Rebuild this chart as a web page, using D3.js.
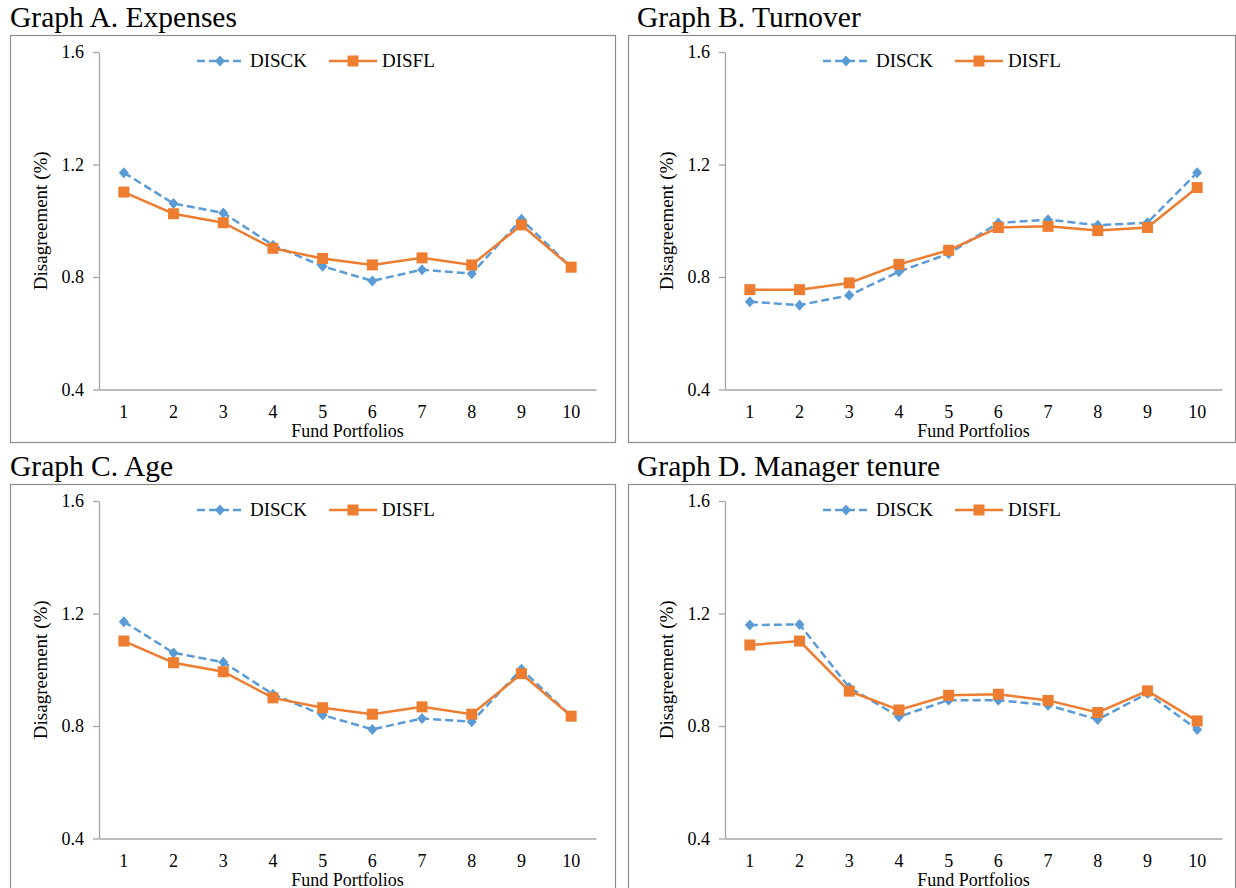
<!DOCTYPE html>
<html>
<head>
<meta charset="utf-8">
<script src="https://cdn.jsdelivr.net/npm/d3@7"></script>
<style>
  body { margin: 0; background: #fff; }
  svg text { fill: #000; }
</style>
</head>
<body>
<svg id="chart"></svg>
<script>
// values
const portfolios = ["1", "2", "3", "4", "5", "6", "7", "8", "9", "10"];
const yTicks = [0.4, 0.8, 1.2, 1.6];
const seriesNames = ["DISCK", "DISFL"];
const graphTitles = ["Graph A. Expenses", "Graph B. Turnover", "Graph C. Age", "Graph D. Manager tenure"];

const disckExpenses = [1.171, 1.061, 1.028, 0.913, 0.838, 0.786, 0.826, 0.812, 1.005, 0.834];
const disflExpenses = [1.102, 1.025, 0.993, 0.902, 0.866, 0.843, 0.868, 0.843, 0.985, 0.835];
const disckTurnover = [0.712, 0.700, 0.735, 0.819, 0.883, 0.992, 1.004, 0.984, 0.993, 1.171];
const disflTurnover = [0.755, 0.755, 0.779, 0.845, 0.895, 0.976, 0.980, 0.965, 0.976, 1.118];
const disckAge = [1.171, 1.060, 1.027, 0.913, 0.839, 0.788, 0.827, 0.815, 1.002, 0.835];
const disflAge = [1.102, 1.025, 0.993, 0.900, 0.865, 0.842, 0.868, 0.842, 0.986, 0.835];
const disckTenure = [1.159, 1.161, 0.937, 0.833, 0.892, 0.892, 0.874, 0.823, 0.916, 0.788];
const disflTenure = [1.088, 1.102, 0.924, 0.857, 0.909, 0.913, 0.891, 0.848, 0.925, 0.818];

const blue = '#5b9bd5';
const orange = '#ed7d31';
const serif = "Liberation Serif, Times New Roman, DejaVu Serif, serif";

const svg = d3.select('#chart')
              .attr('width', 1236)
              .attr('height', 888);

// frame / plot boxes for the 4 graphs
const panels = [
  {fx: 10,  fy: 35,  fw: 605, fh: 407, tx: 10,  left: 99,  top: 52,  title: graphTitles[0], disck: disckExpenses, disfl: disflExpenses},
  {fx: 628, fy: 35,  fw: 607, fh: 407, tx: 637, left: 725, top: 52,  title: graphTitles[1], disck: disckTurnover, disfl: disflTurnover},
  {fx: 10,  fy: 484, fw: 605, fh: 420, tx: 10,  left: 99,  top: 501, title: graphTitles[2], disck: disckAge,      disfl: disflAge},
  {fx: 628, fy: 484, fw: 607, fh: 420, tx: 637, left: 725, top: 501, title: graphTitles[3], disck: disckTenure,   disfl: disflTenure}
];
const plotW = 497, plotH = 337.5;

function drawPanel(p)
{
  const g = svg.append('g').attr('font-family', serif);

  g.append('text')
   .attr('x', p.tx)
   .attr('y', p.fy - 8)
   .attr('font-size', 29.5)
   .text(p.title);

  g.append('rect')
   .attr('x', p.fx + 0.5)
   .attr('y', p.fy + 0.5)
   .attr('width', p.fw)
   .attr('height', p.fh)
   .attr('fill', 'none')
   .attr('stroke', '#8c8c8c')
   .attr('stroke-width', 1.2);

  const x = d3.scaleBand()
              .domain(portfolios)
              .range([p.left, p.left + plotW]);
  const y = d3.scaleLinear()
              .domain([0.4, 1.6])
              .range([p.top + plotH, p.top]);

  const yAxis = g.append('g')
                 .attr('transform', `translate(${p.left},0)`)
                 .call(d3.axisLeft(y).tickValues(yTicks).tickFormat(d3.format('.1f')).tickSize(6).tickSizeOuter(0).tickPadding(9));
  const xAxis = g.append('g')
                 .attr('transform', `translate(0,${p.top + plotH})`)
                 .call(d3.axisBottom(x).tickSize(0).tickPadding(16));
  [yAxis, xAxis].forEach(a => {
    a.attr('font-family', serif).attr('font-size', 18);
    a.selectAll('path, line').attr('stroke', '#a6a6a6').attr('stroke-width', 1.3);
  });

  g.append('text')
   .attr('x', p.left + plotW / 2)
   .attr('y', p.top + plotH + 47)
   .attr('text-anchor', 'middle')
   .attr('font-size', 18)
   .text('Fund Portfolios');

  g.append('text')
   .attr('transform', `translate(${p.left - 52},${p.top + plotH / 2}) rotate(-90)`)
   .attr('text-anchor', 'middle')
   .attr('font-size', 19)
   .text('Disagreement  (%)');

  const cx = (d, i) => x(portfolios[i]) + x.bandwidth() / 2;
  const line = d3.line().x((d, i) => cx(d, i)).y(d => y(d));

  // DISCK: dashed blue with diamonds
  g.append('path')
   .datum(p.disck)
   .attr('d', line)
   .attr('fill', 'none')
   .attr('stroke', blue)
   .attr('stroke-width', 2.5)
   .style('stroke-dasharray', '8, 4');
  g.selectAll('.dia')
   .data(p.disck)
   .enter().append('path')
   .attr('transform', (d, i) => `translate(${cx(d, i)},${y(d)})`)
   .attr('d', 'M0,-5.5L5,0L0,5.5L-5,0Z')
   .attr('fill', blue);

  // DISFL: solid orange with squares
  g.append('path')
   .datum(p.disfl)
   .attr('d', line)
   .attr('fill', 'none')
   .attr('stroke', orange)
   .attr('stroke-width', 2.5);
  g.selectAll('.sq')
   .data(p.disfl)
   .enter().append('rect')
   .attr('x', (d, i) => cx(d, i) - 5.5)
   .attr('y', d => y(d) - 5.5)
   .attr('width', 11)
   .attr('height', 11)
   .attr('fill', orange);

  // legend
  const ly = p.top + 9;
  const lg = g.append('g');
  lg.append('line')
    .attr('x1', p.left + 98).attr('x2', p.left + 144)
    .attr('y1', ly).attr('y2', ly)
    .attr('stroke', blue).attr('stroke-width', 2.5)
    .style('stroke-dasharray', '8, 4');
  lg.append('path')
    .attr('transform', `translate(${p.left + 121},${ly})`)
    .attr('d', 'M0,-5.5L5,0L0,5.5L-5,0Z')
    .attr('fill', blue);
  lg.append('text')
    .attr('x', p.left + 151).attr('y', ly + 6)
    .attr('font-size', 19)
    .text(seriesNames[0]);
  lg.append('line')
    .attr('x1', p.left + 230).attr('x2', p.left + 278)
    .attr('y1', ly).attr('y2', ly)
    .attr('stroke', orange).attr('stroke-width', 2.5);
  lg.append('rect')
    .attr('x', p.left + 248.5).attr('y', ly - 5.5)
    .attr('width', 11).attr('height', 11)
    .attr('fill', orange);
  lg.append('text')
    .attr('x', p.left + 283).attr('y', ly + 6)
    .attr('font-size', 19)
    .text(seriesNames[1]);
}

panels.forEach(p => drawPanel(p));
</script>
</body>
</html>
